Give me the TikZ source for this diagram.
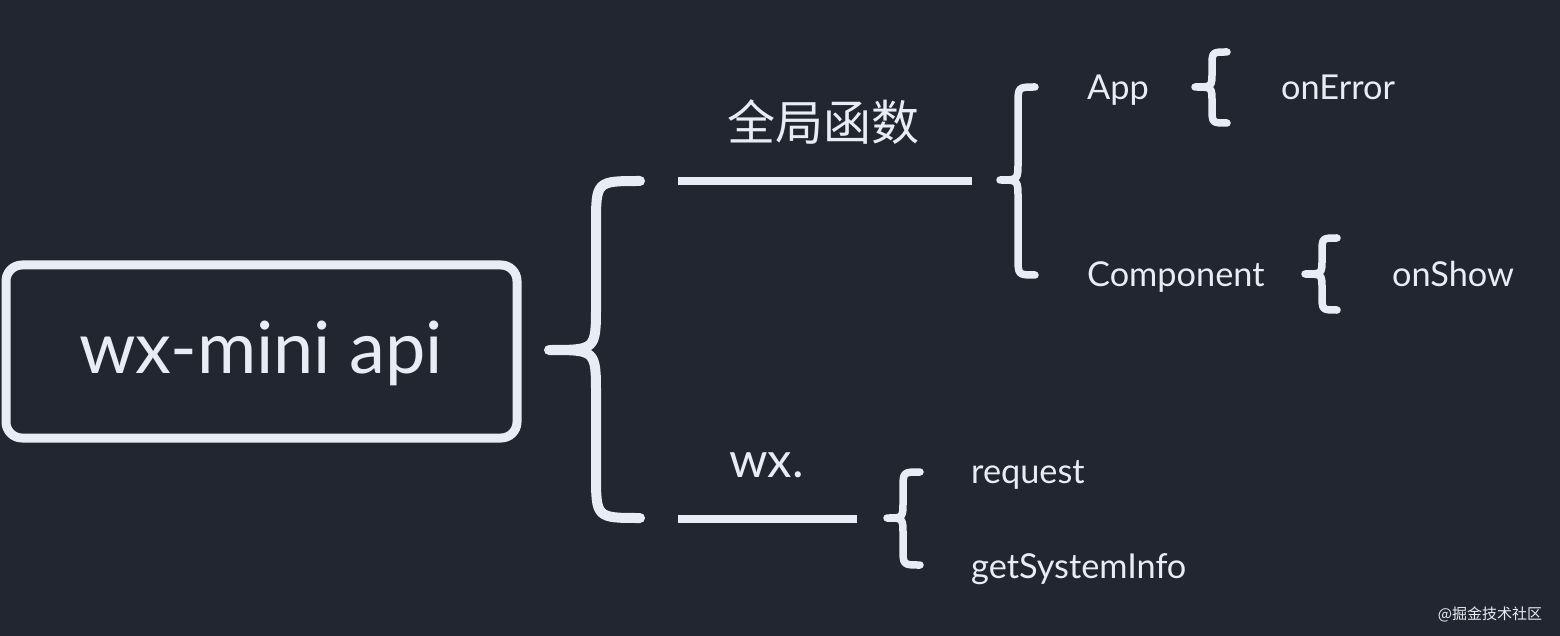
\documentclass[tikz,border=0pt]{standalone}
\usepackage{fontspec}
\setmainfont{Lato}
\newfontfamily\cjk{Noto Sans CJK SC}
\definecolor{bg}{HTML}{222630}
\definecolor{fg}{HTML}{E8ECF5}
% #1 lw, #2 xe, #3 yt, #4 yb, #5 xv, #6 xt, #7 ym, #8 r
\newcommand\mybrace[8]{%
  \draw[fg, line width=#1, line cap=round, line join=round]
    (#2,#3) .. controls (#5,#3) .. (#5,#3+#8) -- (#5,#7-#8)
    .. controls (#5,#7) .. (#6,#7)
    .. controls (#5,#7) .. (#5,#7+#8) -- (#5,#4-#8)
    .. controls (#5,#4) .. (#2,#4);}
\begin{document}
\begin{tikzpicture}[x=1pt,y=-1pt,
  lbl/.style={text=fg, inner sep=0pt, anchor=base west, font=\fontsize{34.3}{38}\selectfont},
  bar/.style={draw=fg, line width=8pt}]
\useasboundingbox (0,0) rectangle (1560,636);
\fill[bg] (0,0) rectangle (1560,636);
% root box
\draw[fg, line width=9pt, rounded corners=16pt] (6,265) rectangle (517,438);
\node[text=fg, inner sep=0pt, anchor=base, font=\fontsize{72}{80}\selectfont] (root) at (261,373) {wx-mini api};
% big brace
\mybrace{10pt}{640}{181}{518}{596}{549}{350}{45}
% branch labels and bars
\node[text=fg, inner sep=0pt, font=\cjk\fontsize{48}{52}\selectfont] (glob) at (823,122) {全局函数};
\coordinate (g1) at (678,181);
\coordinate (g2) at (972,181);
\draw[bar] (g1) -- (g2);
\node[text=fg, inner sep=0pt, anchor=base west, font=\fontsize{49}{54}\selectfont] (wx) at (729,477) {wx.};
\coordinate (w1) at (678,519);
\coordinate (w2) at (857,519);
\draw[bar] (w1) -- (w2);
% brace for global functions
\mybrace{7.5pt}{1035}{87}{275}{1018}{1000}{180}{18}
\node[lbl] (app) at (1087,100) {App};
\node[lbl] (comp) at (1087,287) {Component};
\mybrace{7.5pt}{1227}{52}{123}{1212}{1195}{87}{15}
\node[lbl] (onerr) at (1281,100) {onError};
\mybrace{7.5pt}{1337}{238}{310}{1322}{1305}{274}{15}
\node[lbl] (onshow) at (1392,287) {onShow};
% wx brace
\mybrace{7.5pt}{920}{472}{565}{903}{887}{518}{17}
\node[lbl] (req) at (971,483) {request};
\node[lbl] (gsi) at (971,578) {getSystemInfo};
% watermark
\node[text=fg, inner sep=0pt, font=\cjk\fontsize{15}{17}\selectfont] (wm) at (1490,614) {@掘金技术社区};
\end{tikzpicture}
\end{document}
